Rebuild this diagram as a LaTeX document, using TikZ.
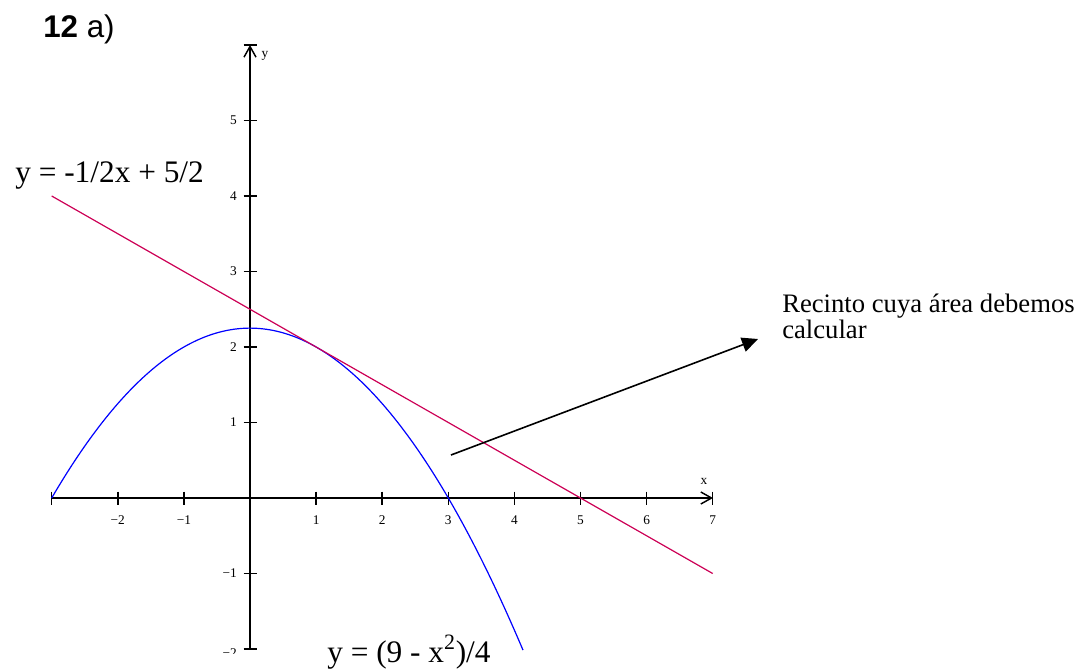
\documentclass[tikz,border=0pt]{standalone}
\usepackage{fontspec}
\setmainfont{Liberation Serif}
\newfontfamily\arialfont{Liberation Sans}
\usetikzlibrary{arrows.meta}

\definecolor{rojoRecta}{RGB}{204,0,85}
\definecolor{azulParabola}{RGB}{0,0,255}

\tikzset{
  ejes/.style={line width=1.1pt,-{Straight Barb[length=8pt,width=9pt,line width=1.1pt]}},
  marca/.style={line width=1.1pt},
  etiqueta/.style={inner sep=0.75pt,font=\fontsize{10}{11}\selectfont},
  parabola/.style={color=azulParabola,line width=0.9pt},
  recta/.style={color=rojoRecta,line width=0.9pt},
  flecha/.style={line width=1.2pt,-{Triangle[length=12pt,width=11pt]}},
  ecuacion/.style={anchor=base west,inner sep=0pt,font=\fontsize{23.5}{28}\selectfont}
}

\begin{document}
\begin{tikzpicture}[x=0.75pt,y=0.75pt,yscale=-1,xscale=1]
    \path[use as bounding box] (0,0) rectangle (1077,671);

    %Shape: Axes
    \draw[ejes] (52,498) -- (713,498);
    \draw[ejes] (250,649) -- (250,45);
    % Ticks on x
    \foreach \i in {-3,-2,-1,1,2,3,4,5,6,7}
        \draw[marca] ({250+66.1*\i},491.5) -- ({250+66.1*\i},504.5);
    % Ticks on y
    \foreach \j in {-2,-1,1,2,3,4,5,6}
        \draw[marca] (243.5,{498-75.5*\j}) -- (256.5,{498-75.5*\j});

    % Text Node: tick labels
    \foreach \i/\t in {-2/−2,-1/−1,1/1,2/2,3/3,4/4,5/5,6/6,7/7}
        \node[etiqueta] (ex\i) at ({250+66.1*\i},520) {\t};
    \foreach \j/\t in {-1/−1,1/1,2/2,3/3,4/4,5/5}
        \node[etiqueta,anchor=east] (ey\j) at (238,{498-75.5*\j}) {\t};
    \begin{scope}
        \clip (200,600) rectangle (245,653);
        \node[etiqueta,anchor=east] (eyneg) at (238,{498+75.5*2+4}) {−2};
    \end{scope}
    \node[etiqueta] (ejeX) at (704,481) {x};
    \node[etiqueta] (ejeY) at (265,56) {y};

    %Shape: Curves
    \draw[parabola] plot[domain=-3:4.13,samples=150] ({250+66.1*\x},{498-75.5*(9-\x*\x)/4});
    \draw[recta] (51.7,196) -- (712.7,573.5);

    % Text Node
    \node[anchor=base west,inner sep=0pt] (titulo) at (43,37) {\arialfont\fontsize{23.5}{28}\selectfont\textbf{12} a)};
    % Text Node
    \node[ecuacion] (ecRecta) at (15,182) {y = -1/2x + 5/2};
    % Text Node
    \node[ecuacion] (ecParabola) at (327,662) {y = (9 - x\textsuperscript{2})/4};
    % Text Node
    \node[anchor=base west,inner sep=0pt,align=left,font=\fontsize{20}{18}\selectfont] (recinto) at (782,338) {Recinto cuya área debemos\\calcular};

    % Arrow
    \coordinate (flechaIni) at (451,455);
    \coordinate (flechaFin) at (758,339);
    \draw[flecha] (flechaIni) -- (flechaFin);

\end{tikzpicture}
\end{document}
